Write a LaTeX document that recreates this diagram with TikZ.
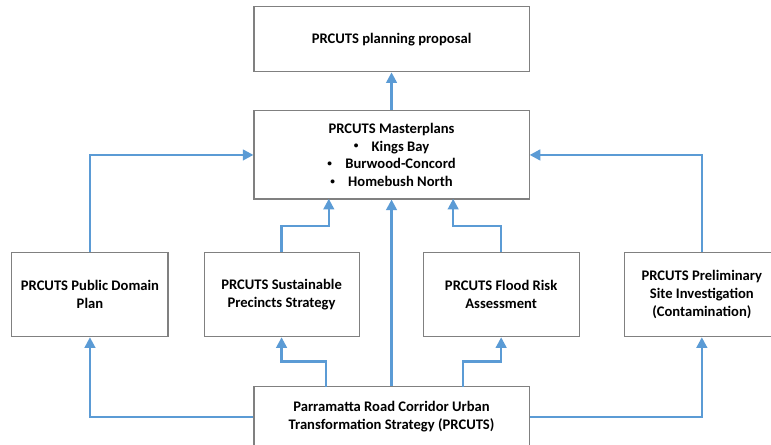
\documentclass[tikz,border=0pt]{standalone}
\usepackage{fontspec}
\setmainfont{Carlito}
\usetikzlibrary{arrows.meta}

\definecolor{linkblue}{RGB}{91,155,213}
\definecolor{boxgray}{RGB}{128,128,128}

\newcommand{\mpbullet}{\raisebox{1.6pt}{\fontsize{7}{7}\selectfont\textbullet}\hspace{10pt}}

\tikzset{
	box/.style={draw=boxgray,line width=0.8pt,align=center,inner sep=2pt,
		font=\bfseries\fontsize{11}{13.5}\selectfont},
	link/.style={draw=linkblue,line width=1.8pt,join=miter,
		-{Triangle[length=8pt,width=8pt]}}
}

\begin{document}
\begin{tikzpicture}
		\useasboundingbox (0,0) rectangle (20.40,11.77);
		
		% top row
		\node[box,minimum width=7.28cm,minimum height=1.72cm] (plan) at (10.36,10.73) {PRCUTS planning proposal};
		\node[box,minimum width=7.28cm,minimum height=2.33cm] (master) at (10.36,7.67)
			{PRCUTS Masterplans\\
			\mpbullet Kings Bay\\
			\mpbullet Burwood-Concord\\
			\mpbullet Homebush North};
		
		% middle row
		\node[box,minimum width=4.13cm,minimum height=2.22cm] (public) at (2.38,3.97) {PRCUTS Public Domain\\Plan};
		\node[box,minimum width=4.10cm,minimum height=2.22cm] (sust) at (7.45,3.97) {PRCUTS Sustainable\\Precincts Strategy};
		\node[box,minimum width=4.13cm,minimum height=2.22cm] (flood) at (13.26,3.97) {PRCUTS Flood Risk\\Assessment};
		\node[box,minimum width=4.07cm,minimum height=2.22cm] (prelim) at (18.57,3.97) {PRCUTS Preliminary\\Site Investigation\\(Contamination)};
		
		% bottom
		\node[box,minimum width=7.28cm,minimum height=1.59cm] (base) at (10.36,0.74)
			{Parramatta Road Corridor Urban\\Transformation Strategy (PRCUTS)};
		
		\coordinate (mL) at (8.70,6.51);
		\coordinate (mR) at (11.99,6.51);
		\coordinate (sk) at (7.45,5.79);
		\coordinate (fk) at (13.26,5.79);
		\coordinate (bL) at (8.63,1.53);
		\coordinate (bR) at (12.25,1.53);
		\coordinate (sb) at (8.63,2.20);
		\coordinate (fb) at (12.25,2.20);
		
		\draw[link] (master) -- (plan);
		\draw[link] (public.north) |- (master.west);
		\draw[link] (prelim.north) |- (master.east);
		\draw[link] (sust.north) -- (sk) -| (mL);
		\draw[link] (flood.north) -- (fk) -| (mR);
		\draw[link] (base.north) -- (master.south);
		
		\draw[link] (base.west) -| (public.south);
		\draw[link] (base.east) -| (prelim.south);
		\draw[link] (bL) -- (sb) -| (sust.south);
		\draw[link] (bR) -- (fb) -| (flood.south);
	
	\end{tikzpicture}
\end{document}
